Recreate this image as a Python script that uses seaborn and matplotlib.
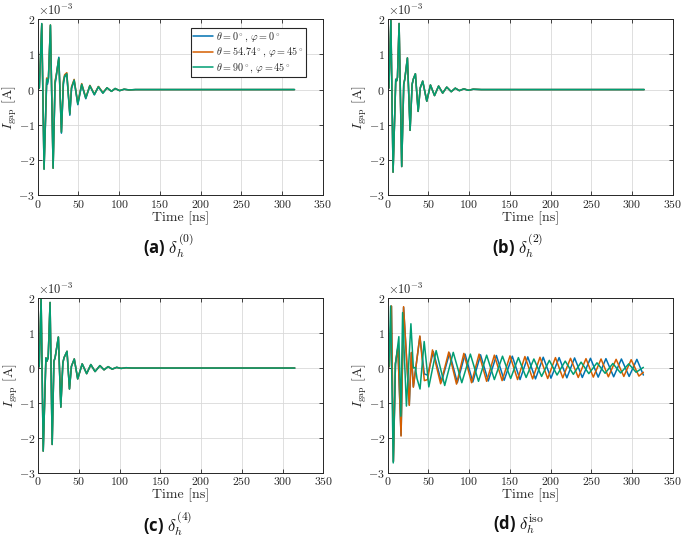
import matplotlib as mpl
import seaborn as sns
import pandas as pd
import numpy as np

mpl.use("Agg")
plt = mpl.pyplot

# legend labels
L0 = r"$\theta = 0^\circ$, $\varphi = 0^\circ$"
L1 = r"$\theta = 54.74^\circ$, $\varphi = 45^\circ$"
L2 = r"$\theta = 90^\circ$, $\varphi = 45^\circ$"
LABELS = [L0, L1, L2]
COLORS = ["#0072B2", "#D55E00", "#009E73"]

# ---- (a) delta_h^(0): turning points, [ns] / [1e-3 A]
a_t = [0, 2, 5, 7.8, 11, 12, 13.2, 15.6, 18.9, 21.3, 22.5, 25.9, 29.1, 31.5, 33, 35.7, 39.4,
       41.5, 44.7, 49.2, 54, 59, 64, 69.5, 74.5, 80, 85, 90.5, 95, 100.5, 106, 112, 120, 315]
a_blue = [0, 0.05, 1.86, -2.25, 0.2, 0.15, 0.3, 1.82, -2.22, 0.15, 0.33, 0.92, -1.24, 0.15, 0.36, 0.43,
          -0.73, 0.03, 0.26, -0.43, 0.14, -0.26, 0.11, -0.15, 0.08, -0.1, 0.05, -0.05, 0.03, -0.03,
          0.01, -0.01, 0, 0]
a_orange = [0, 0.05, 1.87, -2.26, 0.33, 0.22, 0.36, 1.84, -2.24, 0.25, 0.38, 0.88, -1.2, 0.25, 0.42, 0.48,
            -0.68, 0.08, 0.29, -0.39, 0.17, -0.23, 0.12, -0.13, 0.09, -0.09, 0.05, -0.05, 0.03, -0.03,
            0.01, -0.01, 0, 0]
a_green = [0, 0.05, 1.88, -2.27, 0.3, 0.2, 0.33, 1.84, -2.24, 0.2, 0.35, 0.9, -1.22, 0.2, 0.38, 0.45,
           -0.7, 0.05, 0.27, -0.41, 0.15, -0.24, 0.11, -0.14, 0.08, -0.1, 0.05, -0.05, 0.03, -0.03,
           0.01, -0.01, 0, 0]

# ---- (b) delta_h^(2): the three curves overlap
b_t = [0, 1.5, 3.9, 6.6, 9.9, 11, 12, 14, 17.2, 19.7, 21, 24.2, 27.5, 30, 31.5, 34, 37.4, 40, 43,
       48, 52.5, 57.5, 62.5, 67.5, 72.5, 78, 83, 88, 93.5, 99, 105, 115, 315]
b_v = [0, 0.05, 1.97, -2.35, 0.29, 0.25, 0.35, 1.88, -2.19, 0.15, 0.3, 0.9, -1.16, 0.15, 0.3, 0.45,
       -0.62, 0.05, 0.24, -0.33, 0.13, -0.17, 0.1, -0.1, 0.07, -0.06, 0.04, -0.03, 0.02, -0.02, 0.01, 0, 0]

# ---- (c) delta_h^(4): the three curves overlap
c_t = [0, 1.5, 3.8, 6.4, 9.7, 11, 12.5, 14.8, 17.4, 19.5, 21, 25, 28, 30.5, 32, 35.6, 38.6, 41, 44.5,
       48.7, 54.2, 59.7, 64.8, 70, 76, 81, 86, 91, 96.5, 102, 108, 115, 315]
c_v = [0, 0.05, 2.0, -2.38, 0.29, 0.2, 0.3, 1.88, -2.19, 0.19, 0.3, 0.89, -1.12, 0.15, 0.3, 0.48,
       -0.6, 0.05, 0.26, -0.31, 0.12, -0.16, 0.1, -0.1, 0.07, -0.05, 0.04, -0.03, 0.02, -0.01, 0.01, 0, 0]

# ---- (d) delta_h^iso
d_orange_t = [0, 2, 4.6, 7, 9.5, 12.5, 16.4, 19.5, 26.5, 29, 31.5, 39.5, 45, 49, 55,
              65, 75, 84.5, 93.5, 103, 112.2, 121.5, 131, 140.5, 150.2, 159.5, 168.5, 178, 187,
              196.5, 206, 215, 224.5, 234, 243.5, 252.5, 262, 271, 280.5, 290, 299, 308.5, 314]
d_orange_v = [0, 0.05, 1.78, -2.68, 0.13, 0.6, -1.95, 1.76, -1.07, 0.45, -0.55, 0.92, -0.36, -0.33, 0.52,
              -0.45, 0.46, -0.46, 0.42, -0.42, 0.4, -0.38, 0.37, -0.36, 0.35, -0.33, 0.33, -0.31, 0.31,
              -0.3, 0.3, -0.28, 0.28, -0.27, 0.27, -0.26, 0.26, -0.25, 0.25, -0.24, 0.24, -0.23, -0.12]
d_blue_t = [0, 2, 4.6, 7, 9.5, 12.5, 16.4, 19.5, 26.5, 29, 31.5, 39.5, 45, 49, 56,
            66, 76, 85.5, 95, 104.5, 114, 123.5, 133.5, 143, 153, 162.5, 172, 181.5, 191,
            200.5, 210.5, 220, 229.5, 239, 249, 258.5, 268, 277.5, 287, 296.5, 306, 314]
d_blue_v = [0, 0.05, 1.77, -2.68, 0.13, 0.58, -1.93, 1.74, -1.05, 0.43, -0.53, 0.9, -0.17, -0.2, 0.47,
            -0.4, 0.43, -0.42, 0.4, -0.4, 0.38, -0.37, 0.36, -0.35, 0.34, -0.33, 0.32, -0.31, 0.31,
            -0.29, 0.3, -0.28, 0.29, -0.27, 0.28, -0.26, 0.27, -0.25, 0.26, -0.24, 0.25, -0.2]
d_green_t = [0, 1.5, 3.6, 6.8, 9.5, 13.7, 16.2, 18.3, 23, 28.5, 31.5, 34, 36, 39.7, 44.8, 50.5, 59.5,
             70, 80.5, 91, 101.5, 111.5, 121.5, 131, 141, 151, 160.5, 170, 179.5, 189, 198.5, 208,
             218, 228, 237.5, 247, 257, 267, 276.5, 286, 296, 305, 314]
d_green_v = [0, 0.05, 1.78, -2.72, 0.1, 0.9, -1.38, 1.59, -1.09, 1.27, 0.0, 0.02, -0.3, -0.6, 0.76, -0.54,
             0.5, -0.5, 0.45, -0.42, 0.4, -0.38, 0.37, -0.33, 0.34, -0.3, 0.3, -0.27, 0.26, -0.24, 0.22,
             -0.2, 0.2, -0.18, 0.17, -0.16, 0.15, -0.15, 0.13, -0.14, 0.12, -0.12, 0.02]

CAPTIONS = [r"(a) $\delta_h^{(0)}$", r"(b) $\delta_h^{(2)}$",
            r"(c) $\delta_h^{(4)}$", r"(d) $\delta_h^{\rm iso}$"]


def long_df(series):
    # series: list of (label, t, v)
    frames = [pd.DataFrame({"t": t, "v": v, "dir": lab}) for lab, t, v in series]
    return pd.concat(frames, ignore_index=True)


panels = [
    long_df([(L0, a_t, a_blue), (L1, a_t, a_orange), (L2, a_t, a_green)]),
    long_df([(L0, b_t, b_v), (L1, b_t, b_v), (L2, b_t, b_v)]),
    long_df([(L0, c_t, c_v), (L1, c_t, c_v), (L2, c_t, c_v)]),
    long_df([(L0, d_blue_t, d_blue_v), (L1, d_orange_t, d_orange_v), (L2, d_green_t, d_green_v)]),
]

sns.set_style("ticks")
plt.rcParams["font.family"] = "cmr10"
plt.rcParams["mathtext.fontset"] = "cm"
plt.rcParams["axes.unicode_minus"] = False
plt.rcParams["axes.formatter.use_mathtext"] = True

W, H = 687, 546
fig = plt.figure(figsize=(W / 100, H / 100), dpi=100)

# axes boxes in pixels: left, top, right, bottom
boxes = [(37.7, 19.3, 323, 195), (387.7, 19.3, 672.7, 195),
         (38, 298.3, 323.3, 472.7), (387.7, 298.3, 672.7, 472.7)]
cap_pos = [(168, 246), (518, 246), (168, 524), (518, 524)]

for i, (df, box) in enumerate(zip(panels, boxes)):
    l, t, r, b = box
    ax = fig.add_axes([l / W, 1 - b / H, (r - l) / W, (b - t) / H])
    sns.lineplot(data=df, x="t", y="v", hue="dir", hue_order=LABELS, palette=COLORS,
                 estimator=None, sort=False, linewidth=1.1, legend=(i == 0), ax=ax)
    ax.set_xlim(0, 350)
    ax.set_ylim(-3, 2)
    ax.set_xticks(np.arange(0, 351, 50))
    ax.set_yticks(np.arange(-3, 3, 1))
    ax.grid(True, color="#d9d9d9", linewidth=0.6)
    ax.set_axisbelow(True)
    ax.tick_params(direction="in", length=3, width=0.6, labelsize=8.5, pad=2,
                   top=True, right=True, colors="#262626")
    for s in ax.spines.values():
        s.set_linewidth(0.7)
        s.set_color("#262626")
    ax.set_xlabel("Time [ns]", fontsize=10, labelpad=1)
    ax.set_ylabel(r"$I_{\rm gap}$ [A]", fontsize=10)
    ax.yaxis.set_label_coords(-0.064, 0.5)
    ax.text(0, 1.01, r"$\times 10^{-3}$", transform=ax.transAxes, ha="left", va="bottom",
            fontsize=9, color="#262626")
    if i == 0:
        sns.move_legend(ax, "upper right", bbox_to_anchor=(0.94, 0.95), title=None,
                        frameon=True, fancybox=False, edgecolor="#262626", framealpha=1,
                        fontsize=7.3, handlelength=1.9, handletextpad=0.3, borderpad=0.25,
                        labelspacing=0.2, borderaxespad=0)
        ax.get_legend().get_frame().set_linewidth(0.8)
    cx, cy = cap_pos[i]
    fig.text(cx / W, 1 - cy / H, CAPTIONS[i], ha="center", va="center", fontsize=12,
             family="Open Sans", fontweight="bold", color="#111111")

fig.savefig("out.png", dpi=100)
